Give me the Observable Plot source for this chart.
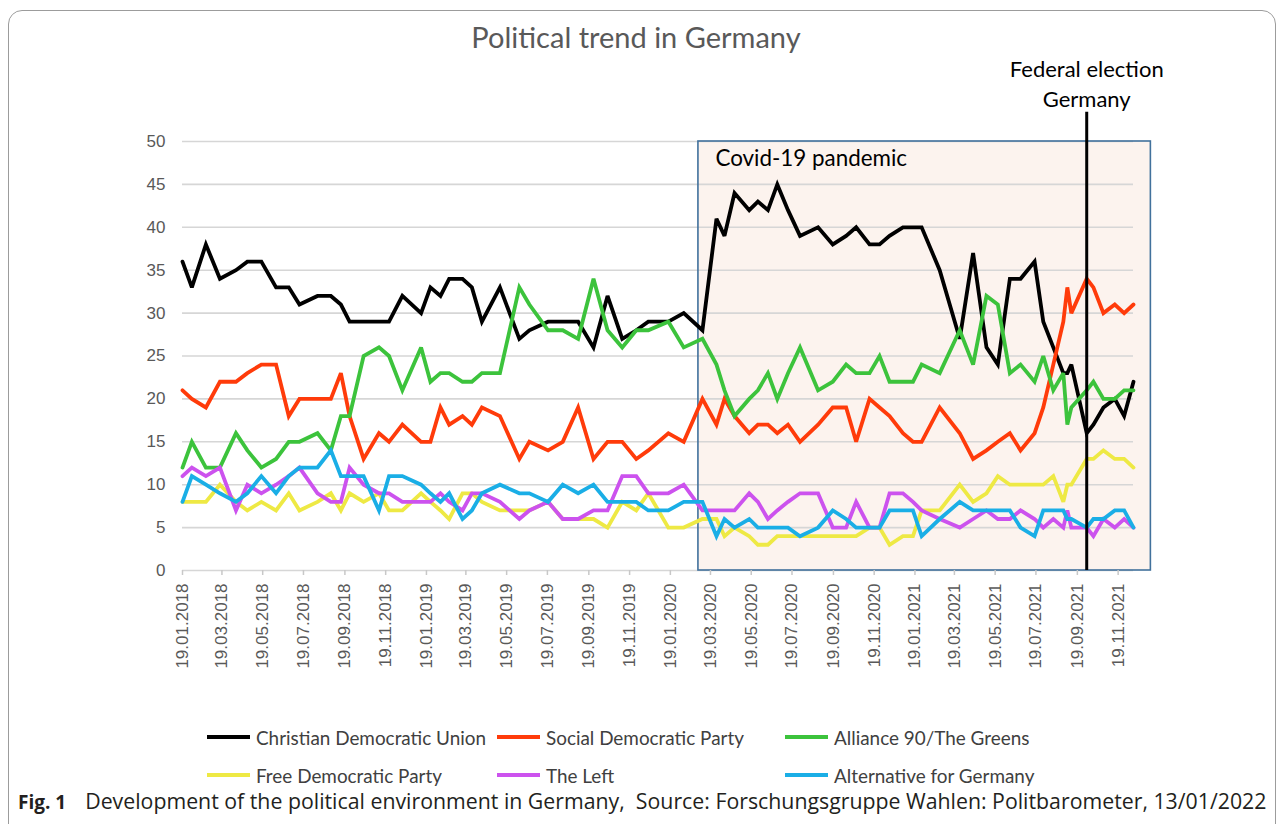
<!DOCTYPE html>
<html>
<head>
<meta charset="utf-8">
<script src="https://cdn.jsdelivr.net/npm/d3@7"></script>
<script src="https://cdn.jsdelivr.net/npm/@observablehq/plot@0.6"></script>
<style>
  html, body { margin: 0; padding: 0; background: #ffffff; }
  #frame { position: relative; width: 1285px; height: 824px; overflow: hidden; background: #fff; }
  #border { position: absolute; left: 8px; top: 10px; width: 1268px; height: 830px; border: 1.5px solid #9c9c9c; border-radius: 14px; box-sizing: border-box; }
  #chart { position: absolute; left: 0; top: 0; }
  #title { position: absolute; left: 0; width: 1272px; top: 19px; text-align: center; font-family: Lato, sans-serif; font-size: 29px; color: #595959; }
  .legend-item { position: absolute; white-space: nowrap; display: flex; align-items: center; height: 24px; font-family: Lato, sans-serif; font-size: 18.9px; color: #404040; }
  .legend-item .sw { width: 43px; height: 4px; margin-right: 6px; flex: none; }
  #caption { position: absolute; left: 18px; top: 786px; font-family: "Open Sans", sans-serif; color: #231f20; white-space: pre; }
  #caption b { font-weight: 700; font-size: 19px; }
  #caption span { font-size: 21.3px; margin-left: 19px; }
</style>
</head>
<body>
<div id="frame">
  <div id="border"></div>
  <div id="title"></div>
  <div id="chart"></div>
  <div id="legend"></div>
  <div id="caption"></div>
</div>
<script>
// ---- data ----
const chartTitle = "Political trend in Germany";
const dates = [
  "2018-01-19","2018-02-02","2018-02-23","2018-03-16","2018-04-09","2018-04-26","2018-05-17","2018-06-08","2018-06-27","2018-07-13",
  "2018-08-09","2018-08-29","2018-09-13","2018-09-26","2018-10-17","2018-11-09","2018-11-24","2018-12-14",
  "2019-01-11","2019-01-25","2019-02-09","2019-02-22","2019-03-14","2019-03-28","2019-04-12","2019-05-09","2019-06-07","2019-06-22",
  "2019-07-20","2019-08-11","2019-09-03","2019-09-26","2019-10-17","2019-11-08","2019-11-29","2019-12-17",
  "2020-01-16","2020-02-08","2020-03-07","2020-03-28","2020-04-09","2020-04-24","2020-05-16","2020-05-29","2020-06-13","2020-06-27",
  "2020-07-13","2020-07-31","2020-08-27","2020-09-18","2020-10-08","2020-10-23","2020-11-12","2020-11-27","2020-12-12",
  "2021-01-01","2021-01-16","2021-01-29","2021-02-25","2021-03-27","2021-04-16","2021-05-06","2021-05-23","2021-06-10","2021-06-26",
  "2021-07-17","2021-07-30","2021-08-14","2021-08-29","2021-09-04","2021-09-10","2021-10-03","2021-10-13","2021-10-28","2021-11-14",
  "2021-11-28","2021-12-12"
];
const cdu = [36,33,38,34,35,36,36,33,33,31, 32,32,31,29,29,29,29,32,
  30,33,32,34,34,33,29,33,27,28, 29,29,29,26,32,27,28,29,
  29,30,28,41,39,44,42,43,42,45, 42,39,40,38,39,40,38,38,39,
  40,40,40,35,27,37,26,24,34,34, 36,29,26,23,23,24,16,17,19,20, 18,22];
const spd = [21,20,19,22,22,23,24,24,18,20, 20,20,23,18,13,16,15,17,
  15,15,19,17,18,17,19,18,13,15, 14,15,19,13,15,15,13,14,
  16,15,20,17,20,18,16,17,17,16, 17,15,17,19,19,15,20,19,18,
  16,15,15,19,16,13,14,15,16,14, 16,19,24,29,33,30,34,33,30,31, 30,31];
const greens = [12,15,12,12,16,14,12,13,15,15, 16,14,18,18,25,26,25,21,
  26,22,23,23,22,22,23,23,33,31, 28,28,27,34,28,26,28,28,
  29,26,27,24,21,18,20,21,23,20, 23,26,21,22,24,23,23,25,22,
  22,22,24,23,28,24,32,31,23,24, 22,25,21,23,17,19,21,22,20,20, 21,21];
const fdp = [8,8,8,10,8,7,8,7,9,7, 8,9,7,9,8,9,7,7,
  9,8,7,6,9,9,8,7,7,7, 8,6,6,6,5,8,7,9,
  5,5,6,6,4,5,4,3,3,4, 4,4,4,4,4,4,5,5,3,
  4,4,7,7,10,8,9,11,10,10, 10,10,11,8,10,10,13,13,14,13, 13,12];
const theLeft = [11,12,11,12,7,10,9,10,11,12, 9,8,8,12,10,9,9,8,
  8,8,9,8,7,9,9,8,6,7, 8,6,6,7,7,11,11,9,
  9,10,7,7,7,7,9,8,6,7, 8,9,9,5,5,8,5,5,9,
  9,8,7,6,5,6,7,6,6,7, 6,5,6,5,7,5,5,4,6,5, 6,5];
const afd = [8,11,10,9,8,9,11,9,11,12, 12,14,11,11,11,7,11,11,
  10,9,8,9,6,7,9,10,9,9, 8,10,9,10,8,8,8,7,
  7,8,8,4,6,5,6,5,5,5, 5,4,5,7,6,5,5,5,7,
  7,7,4,6,8,7,7,7,7,5, 4,7,7,7,6,6,5,6,6,7, 7,5];
const parties = ["Christian Democratic Union","Social Democratic Party","Alliance 90/The Greens",
                 "Free Democratic Party","The Left","Alternative for Germany"];
const partyColors = ["#000000","#ff3b0a","#3cc33c","#eee944","#cc52ee","#1aaee6"];
const xTickDates = [
  "2018-01-19","2018-03-19","2018-05-19","2018-07-19","2018-09-19","2018-11-19",
  "2019-01-19","2019-03-19","2019-05-19","2019-07-19","2019-09-19","2019-11-19",
  "2020-01-19","2020-03-19","2020-05-19","2020-07-19","2020-09-19","2020-11-19",
  "2021-01-19","2021-03-19","2021-05-19","2021-07-19","2021-09-19","2021-11-19"
];
const yTicks = [0,5,10,15,20,25,30,35,40,45,50];
const covidPeriod = {start: "2020-03-01", end: "2022-01-07", label: "Covid-19 pandemic"};
const election = {date: "2021-10-03", top: 53.4, label: "Federal election\nGermany"};
const captionLead = "Fig. 1";
const captionText = "Development of the political environment in Germany,  Source: Forschungsgruppe Wahlen: Politbarometer, 13/01/2022";

// ---- build ----
const parse = d3.utcParse("%Y-%m-%d");
const seriesValues = [cdu, spd, greens, fdp, theLeft, afd];
const rows = parties.flatMap((p, i) => dates.map((d, j) => ({date: parse(d), value: seriesValues[i][j], party: p})));

document.getElementById("title").textContent = chartTitle;

const chart = Plot.plot({
  width: 1285,
  height: 700,
  marginLeft: 182,
  marginRight: 152,
  marginTop: 141,
  marginBottom: 130,
  x: {type: "utc", domain: [parse(dates[0]), parse(dates[dates.length - 1])], label: null},
  y: {domain: [0, 50], label: null},
  color: {domain: parties, range: partyColors},
  style: {background: "transparent", overflow: "visible", fontFamily: "'Liberation Sans', Arial, sans-serif"},
  marks: [
    Plot.rect([covidPeriod], {x1: d => parse(d.start), x2: d => parse(d.end), y1: 0, y2: 50, fill: "#fcf3ee"}),
    Plot.gridY(yTicks, {stroke: "#d6d6d6", strokeOpacity: 1, strokeWidth: 1.6}),
    Plot.rect([covidPeriod], {x1: d => parse(d.start), x2: d => parse(d.end), y1: 0, y2: 50, fill: "none", stroke: "#41719c", strokeWidth: 1.6}),
    Plot.axisY(yTicks, {tickSize: 0, tickPadding: 17, fontSize: 17, fill: "#595959", label: null}),
    Plot.axisX(xTickDates.map(parse), {tickRotate: -90, tickFormat: d3.utcFormat("%d.%m.%Y"), tickSize: 5,
      tickPadding: 8, stroke: "#c8c8c8", strokeWidth: 1.5, fill: "#595959", fontSize: 17, label: null}),
    Plot.line(rows, {x: "date", y: "value", z: "party", stroke: "party", strokeWidth: 3.8, strokeLinejoin: "miter", strokeMiterlimit: 3}),
    Plot.ruleX([election], {x: d => parse(d.date), y1: 0, y2: d => d.top, stroke: "#000", strokeWidth: 3}),
    Plot.text([election], {x: d => parse(d.date), y: d => d.top, text: d => d.label, lineAnchor: "bottom", dy: -5,
      fontFamily: "Lato, sans-serif", fontSize: 22, fill: "#000", lineHeight: 1.36}),
    Plot.text([covidPeriod], {x: d => parse(d.start), y: 50, text: d => d.label, textAnchor: "start", lineAnchor: "middle",
      dx: 17, dy: 17, fontFamily: "Lato, sans-serif", fontSize: 22.4, fill: "#000"})
  ]
});
document.getElementById("chart").appendChild(chart);

// legend
const legend = document.getElementById("legend");
const legendCols = [207, 497, 785];
const legendRowsTop = [725, 763];
parties.forEach((p, i) => {
  const item = document.createElement("div");
  item.className = "legend-item";
  item.style.left = legendCols[i % 3] + "px";
  item.style.top = legendRowsTop[Math.floor(i / 3)] + "px";
  const sw = document.createElement("span");
  sw.className = "sw";
  sw.style.background = partyColors[i];
  const t = document.createElement("span");
  t.textContent = p;
  item.appendChild(sw);
  item.appendChild(t);
  legend.appendChild(item);
});

const cap = document.getElementById("caption");
const b = document.createElement("b");
b.textContent = captionLead;
const s = document.createElement("span");
s.textContent = captionText;
cap.appendChild(b);
cap.appendChild(s);
</script>
</body>
</html>
